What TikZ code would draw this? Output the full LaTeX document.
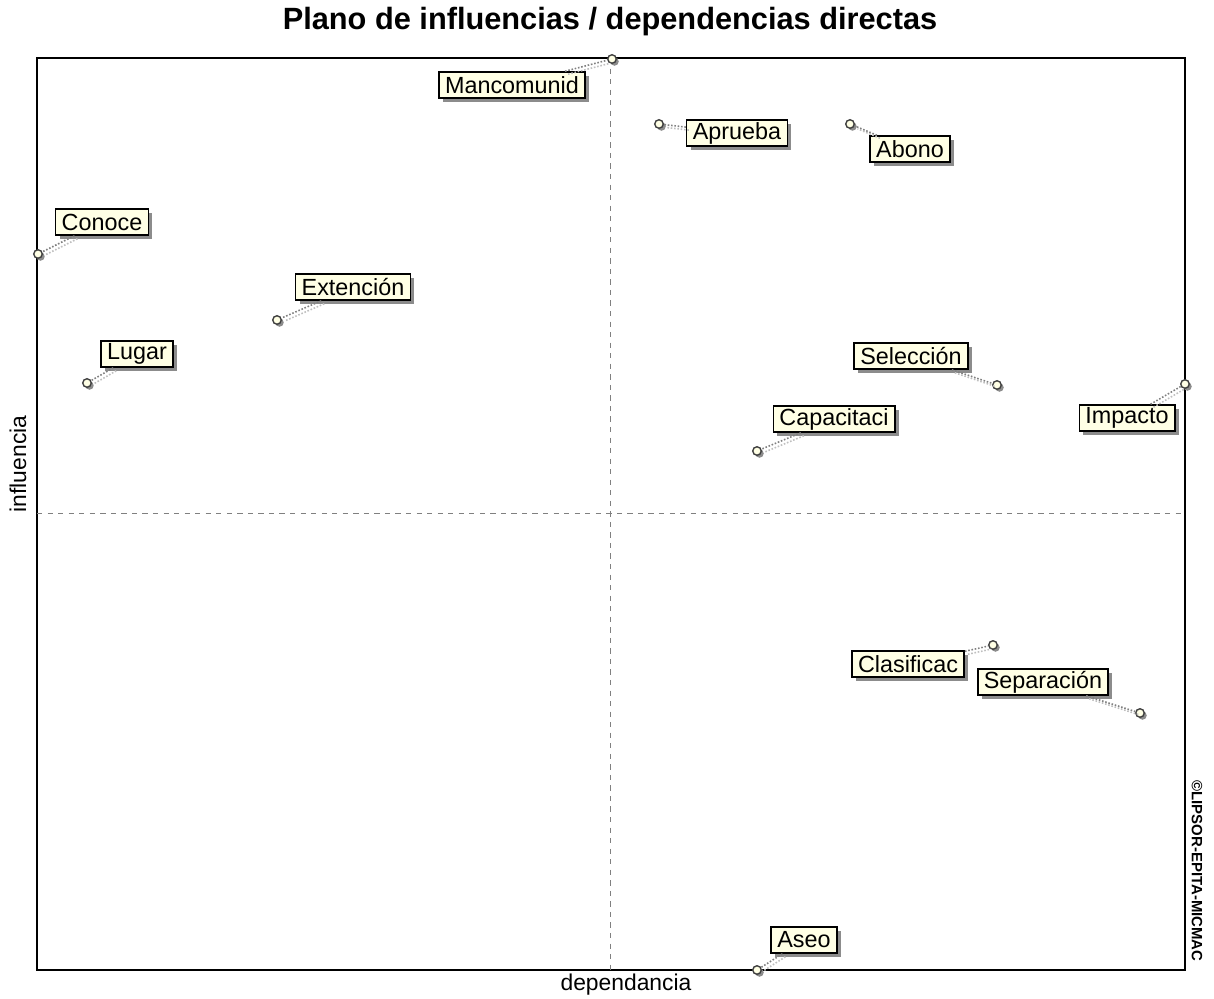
\documentclass[tikz,border=0pt]{standalone}
\usepackage{fontspec}
\setmainfont{Liberation Sans}
\usepackage{tikz}
\usetikzlibrary{positioning, shadows}
\definecolor{cream}{rgb}{1,1,0.9}
\definecolor{shade}{rgb}{0.55,0.55,0.55}
\tikzset{
    tag/.style={draw=black, line width=0.9pt, fill=cream, inner xsep=3.5pt, inner ysep=0pt,
        minimum height=0.52cm, font=\fontsize{13.3}{14}\selectfont,
        drop shadow={shadow xshift=0.08cm, shadow yshift=-0.08cm, fill=shade, opacity=1}},
    dot/.style={circle, draw=black!75, line width=0.8pt, fill=cream, inner sep=0pt,
        minimum size=0.17cm,
        drop shadow={shadow xshift=0.05cm, shadow yshift=-0.05cm, fill=shade, opacity=1}},
    lead/.style={draw=gray, densely dotted, line width=0.9pt},
    leadshade/.style={draw=gray!50, densely dotted, line width=0.9pt,
        transform canvas={shift={(0.06cm,-0.06cm)}}},
    quad/.style={draw=gray, dashed, line width=0.4pt},
    frame/.style={draw=black, line width=0.9pt}
}

\begin{document}
\begin{tikzpicture}[x=0.02cm, y=-0.02cm]
\useasboundingbox (0,0) rectangle (1214,998);

\node (title) at (610,22) {\fontsize{17.5}{20}\selectfont\bfseries Plano de influencias / dependencias directas};
\node (xlab) at (626,985) {\fontsize{13}{14}\selectfont dependancia};
\node[rotate=90] (ylab) at (18,464) {\fontsize{13}{14}\selectfont influencia};
\node[rotate=-90] (copy) at (1197,871) {\fontsize{8.5}{10}\selectfont\bfseries \textcopyright LIPSOR-EPITA-MICMAC};

\draw[frame] (37,58) rectangle (1185,970);
\draw[quad] (610,58) -- (610,970);
\draw[quad] (37,513) -- (1185,513);

\foreach \n/\px/\py/\lx/\ly/\txt in {
    1/612/59/512/85/Mancomunid,
    2/659/124/737/133/Aprueba,
    3/850/124/910/149/Abono,
    4/38/254/102/222/Conoce,
    5/277/320/353/287/Extención,
    6/87/383/137/354/Lugar,
    7/997/385/911/356/Selección,
    8/1185/384/1127/418/Impacto,
    9/757/451/834/419/Capacitaci,
    10/993/645/908/664/Clasificac,
    11/1140/713/1043/682/Separación,
    12/757/970/804/940/Aseo}
{
    \node[dot] (p\n) at (\px,\py) {};
    \node[tag] (l\n) at (\lx,\ly) {\txt};
    \draw[leadshade] (l\n) -- (p\n);
    \draw[lead] (l\n) -- (p\n);
}

\end{tikzpicture}
\end{document}
